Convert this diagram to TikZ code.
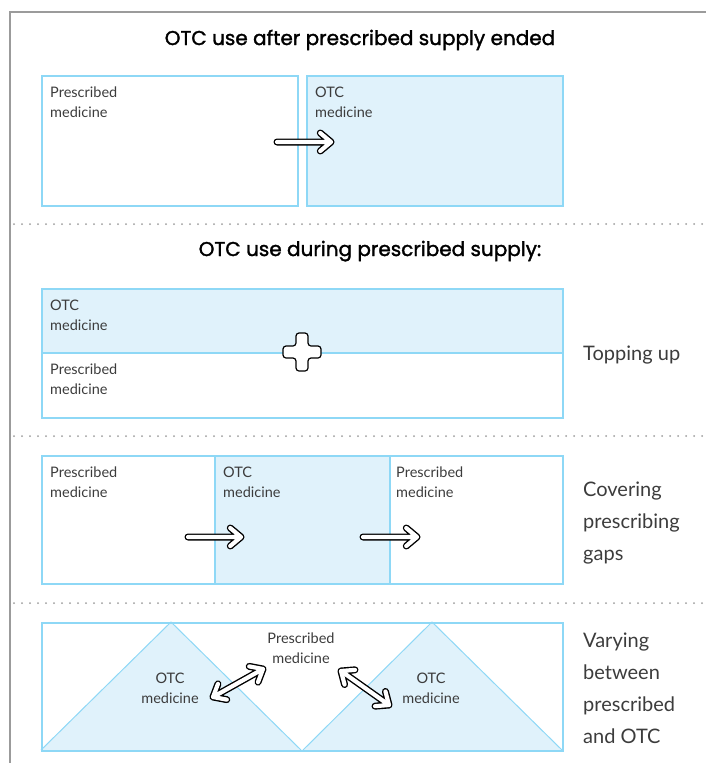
\documentclass[tikz,border=0pt]{standalone}
\usepackage{fontspec}
\setmainfont{Lato}
\newfontfamily\headfont[FakeBold=1.6]{Poppins}
\usetikzlibrary{calc}
\definecolor{otcfill}{RGB}{224,242,251}
\definecolor{otcline}{RGB}{142,216,246}
\definecolor{rulegray}{RGB}{155,155,155}
\definecolor{txtgray}{RGB}{60,60,60}
\tikzset{
	medbox/.style={draw=otcline, line width=1.5pt, inner sep=0pt, anchor=north west},
	otcbox/.style={medbox, fill=otcfill},
	lbl/.style={inner sep=0pt, anchor=north west, align=left, text=txtgray, font=\fontsize{14.5}{20}\selectfont},
	side/.style={inner sep=0pt, anchor=west, align=left, text=txtgray, font=\fontsize{20}{32}\selectfont},
	heading/.style={inner sep=0pt, anchor=base, font=\headfont\fontsize{20}{22}\selectfont},
	sepline/.style={rulegray, line width=2pt, line cap=round, dash pattern=on 0pt off 8pt},
	arrowout/.style={line width=7pt, line cap=round, line join=round},
	arrowin/.style={arrowout, white, line width=4.2pt}
}
\newcommand{\headpath}[2]{($(#2)!14pt!40:(#1)$) -- (#2) -- ($(#2)!14pt!-40:(#1)$)}
\newcommand{\harrow}[2]{
	\draw[arrowout] (#1) -- (#2) \headpath{#1}{#2};
	\draw[arrowin] (#1) -- (#2) \headpath{#1}{#2};
}
\newcommand{\hdarrow}[2]{
	\draw[arrowout] (#1) -- (#2) \headpath{#1}{#2} \headpath{#2}{#1};
	\draw[arrowin] (#1) -- (#2) \headpath{#1}{#2} \headpath{#2}{#1};
}

\begin{document}
\begin{tikzpicture}[x=1pt, y=-1pt]
	\useasboundingbox (0,0) rectangle (706,763);
	\draw[rulegray, line width=1.2pt] (10,763) -- (10,12) -- (706,12);

	\node[heading] (title1) at (360,45) {OTC use after prescribed supply ended};
	\node[medbox, minimum width=256pt, minimum height=130pt] (pres1) at (41,75) {};
	\node[otcbox, minimum width=256pt, minimum height=130pt] (otc1) at (306,75) {};
	\node[lbl] (pres1t) at ([shift={(9pt,-12pt)}]pres1.north west) {Prescribed\\medicine};
	\node[lbl] (otc1t) at ([shift={(9pt,-12pt)}]otc1.north west) {OTC\\medicine};
	\coordinate (a1s) at (277,142);
	\coordinate (a1e) at (331,142);
	\harrow{a1s}{a1e}
	\draw[sepline] (14,224) -- (704,224);

	\node[heading] (title2) at (370,256) {OTC use during prescribed supply:};
	\node[otcbox, minimum width=521pt, minimum height=64pt] (otc2) at (41,288) {};
	\node[medbox, minimum width=521pt, minimum height=65pt] (pres2) at (41,352) {};
	\node[lbl] (otc2t) at ([shift={(9pt,-12pt)}]otc2.north west) {OTC\\medicine};
	\node[lbl] (pres2t) at ([shift={(9pt,-12pt)}]pres2.north west) {Prescribed\\medicine};
	\draw[fill=white, line width=1.2pt, rounded corners=3pt, shift={(302,352)}]
		(-6,-19) -- (6,-19) -- (6,-6) -- (19,-6) -- (19,6) -- (6,6) -- (6,19)
		-- (-6,19) -- (-6,6) -- (-19,6) -- (-19,-6) -- (-6,-6) -- cycle;
	\node[side] (topup) at (583,355) {Topping up};
	\draw[sepline] (14,436) -- (704,436);

	\node[medbox, minimum width=173pt, minimum height=128pt] (pres3a) at (41,455) {};
	\node[otcbox, minimum width=175pt, minimum height=128pt] (otc3) at (214,455) {};
	\node[medbox, minimum width=173pt, minimum height=128pt] (pres3b) at (389,455) {};
	\node[lbl] (pres3at) at ([shift={(9pt,-12pt)}]pres3a.north west) {Prescribed\\medicine};
	\node[lbl] (otc3t) at ([shift={(9pt,-12pt)}]otc3.north west) {OTC\\medicine};
	\node[lbl] (pres3bt) at ([shift={(7pt,-12pt)}]pres3b.north west) {Prescribed\\medicine};
	\coordinate (a3s) at (188,537);
	\coordinate (a3e) at (241,537);
	\coordinate (a4s) at (363,537);
	\coordinate (a4e) at (417,537);
	\harrow{a3s}{a3e}
	\harrow{a4s}{a4e}
	\node[side] (cover) at (583,523) {Covering\\prescribing\\gaps};
	\draw[sepline] (14,603) -- (704,603);

	\fill[otcfill] (41,750) -- (171,622) -- (301,750) -- cycle (303,750) -- (432,622) -- (562,750) -- cycle;
	\draw[otcline, line width=1pt] (41,750) -- (171,622) -- (301,750) (303,750) -- (432,622) -- (562,750);
	\node[medbox, minimum width=521pt, minimum height=128pt] (vary) at (41,622) {};
	\node[lbl, anchor=north, align=center] (pres4t) at (301,633) {Prescribed\\medicine};
	\node[lbl, anchor=north, align=center] (otc4at) at (170,673) {OTC\\medicine};
	\node[lbl, anchor=north, align=center] (otc4bt) at (431,673) {OTC\\medicine};
	\coordinate (d1s) at (213,697);
	\coordinate (d1e) at (263,669);
	\coordinate (d2s) at (341,671);
	\coordinate (d2e) at (389,705);
	\hdarrow{d1s}{d1e}
	\hdarrow{d2s}{d2e}
	\node[side] (varyt) at (583,688) {Varying\\between\\prescribed\\and OTC};
\end{tikzpicture}
\end{document}
